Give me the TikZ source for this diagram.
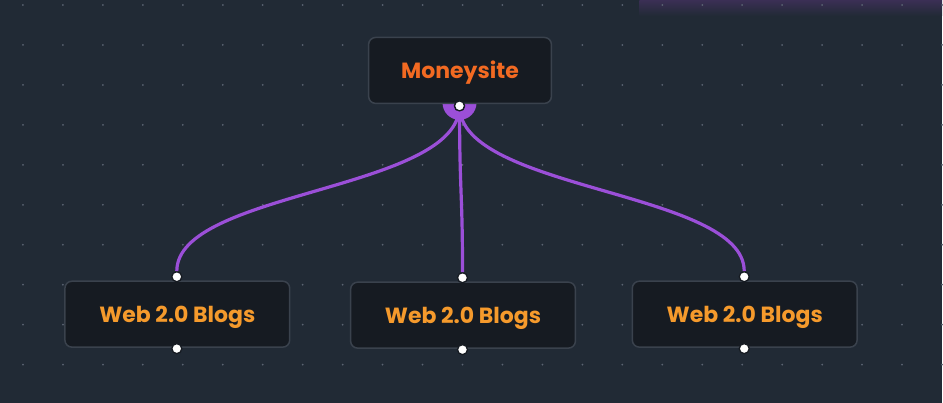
\documentclass[tikz,border=0pt]{standalone}
\usepackage{fontspec}
\setmainfont{Poppins}
\definecolor{canvas}{HTML}{212A35}
\definecolor{griddot}{HTML}{5B6472}
\definecolor{boxfill}{HTML}{161B22}
\definecolor{boxline}{HTML}{3A424D}
\definecolor{linkpurple}{HTML}{9B4FD8}
\definecolor{mainorange}{HTML}{F26A22}
\definecolor{bloglabel}{HTML}{F59A2C}
\definecolor{glow}{HTML}{3B2F55}
\begin{document}
\begin{tikzpicture}[x=1pt, y=-1pt,
    box/.style={draw=boxline, line width=1.5pt, fill=boxfill, rounded corners=7pt,
      minimum width=225pt, minimum height=66pt, text height=19pt, text depth=3pt,
      font=\fontsize{22}{26}\selectfont\bfseries, text=bloglabel},
    handle/.style={circle, draw=boxfill, line width=1.3pt, fill=white, inner sep=0pt, minimum size=10pt},
    link/.style={draw=linkpurple, line width=3.2pt}]
    % canvas and dot grid
    \fill[canvas] (0,0) rectangle (943,403);
    \shade[top color=glow, bottom color=canvas] (640,0) rectangle (943,16);
    \foreach \gx in {23,63,...,943}
        \foreach \gy in {5,45,...,403}
            \fill[griddot] (\gx,\gy) circle (1pt);
    \useasboundingbox (0,0) rectangle (943,403);

    \fill[linkpurple] (443,103) arc[start angle=180, end angle=360, radius=17pt];

    \node[box, minimum width=183pt, text=mainorange] (moneysite) at (460.5,70.5) {Moneysite};
    \node[box] (blogA) at (177.5,314.5) {Web 2.0 Blogs};
    \node[box] (blogB) at (463.5,315.5) {Web 2.0 Blogs};
    \node[box] (blogC) at (745.5,314.5) {Web 2.0 Blogs};

    \node[handle] (out) at (460,106) {};
    \node[handle] (inA) at (177,277) {};
    \node[handle] (inB) at (463,278) {};
    \node[handle] (inC) at (745,277) {};
    \node[handle] (endA) at (177,349) {};
    \node[handle] (endB) at (463,350) {};
    \node[handle] (endC) at (745,349) {};

    % links from the money site down to the blogs
    \path[link] (out.center) .. controls (460,191) and (177,191) .. (inA.north);
    \path[link] (out.center) .. controls (460,192) and (463,192) .. (inB.north);
    \path[link] (out.center) .. controls (460,191) and (745,191) .. (inC.north);
    \node[handle] at (out) {};
\end{tikzpicture}
\end{document}
